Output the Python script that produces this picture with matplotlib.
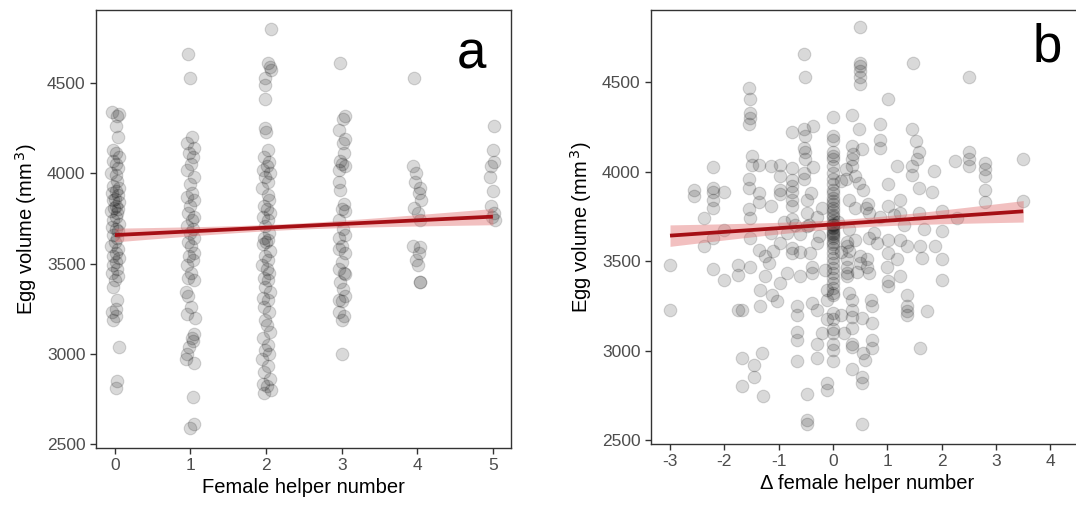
import numpy as np
import matplotlib
matplotlib.use("Agg")
from matplotlib import pyplot as plt

plt.rcParams["font.family"] = ["Liberation Sans", "DejaVu Sans"]
plt.rcParams["axes.unicode_minus"] = False

# Panel a: egg volume per female helper number (y values + horizontal jitter per point)
a_y0 = [4340, 4320, 4330, 4260, 4200, 4130, 4110, 4090, 4070, 4050, 4030, 4000, 3990, 3960,
        3930, 3920, 3900, 3890, 3880, 3860, 3850, 3840, 3820, 3810, 3800, 3790, 3780, 3760,
        3740, 3720, 3700, 3690, 3680, 3660, 3640, 3620, 3600, 3580, 3560, 3540, 3530, 3510,
        3490, 3470, 3450, 3430, 3410, 3370, 3300, 3250, 3230, 3210, 3190, 3040, 2850, 2810]
a_j0 = [-0.04, 0.03, 0.05, 0.02, 0.04, -0.02, 0.01, 0.05, -0.03, 0.02, 0.04, -0.05, 0.01, 0.03,
        -0.02, 0.05, 0.02, -0.04, 0.04, 0.00, -0.03, 0.05, 0.02, -0.01, 0.04, -0.05, 0.03, 0.01,
        -0.03, 0.05, -0.04, 0.02, 0.04, -0.02, 0.03, 0.00, -0.05, 0.04, 0.02, -0.03, 0.05, 0.01,
        -0.02, 0.03, -0.04, 0.04, 0.00, -0.03, 0.03, 0.02, -0.04, 0.01, -0.02, 0.05, 0.03, 0.02]

a_y1 = [4660, 4530, 4200, 4170, 4140, 4110, 4090, 4050, 4020, 3980, 3940, 3890, 3870, 3850,
        3820, 3780, 3760, 3740, 3710, 3690, 3670, 3640, 3620, 3600, 3560, 3540, 3520, 3490,
        3450, 3420, 3410, 3340, 3320, 3260, 3220, 3200, 3110, 3090, 3070, 3040, 3000, 2970,
        2950, 2760, 2610, 2590]
a_j1 = [-0.03, -0.01, 0.02, -0.04, 0.05, -0.02, 0.03, 0.01, -0.05, 0.04, -0.01, 0.02, -0.04,
        0.05, 0.00, -0.03, 0.04, 0.02, -0.05, 0.03, -0.01, 0.05, -0.03, 0.01, 0.04, -0.02,
        0.03, -0.05, 0.01, -0.03, 0.04, -0.06, -0.03, 0.01, -0.04, 0.06, 0.04, 0.02, 0.03,
        -0.02, -0.04, -0.06, 0.05, 0.03, 0.04, -0.01]

a_y2 = [4800, 4610, 4590, 4570, 4530, 4490, 4410, 4250, 4230, 4130, 4090, 4060, 4040, 4020,
        4000, 3980, 3950, 3920, 3880, 3850, 3820, 3800, 3780, 3760, 3740, 3710, 3670, 3640,
        3630, 3620, 3610, 3570, 3540, 3520, 3490, 3470, 3450, 3420, 3410, 3370, 3340, 3310,
        3300, 3260, 3230, 3190, 3160, 3120, 3090, 3050, 3020, 3000, 2970, 2930, 2900, 2860,
        2830, 2820, 2800, 2780]
a_j2 = [0.06, 0.02, 0.05, 0.07, -0.02, -0.01, -0.01, -0.02, 0.00, 0.03, -0.03, 0.04, 0.01,
        -0.04, 0.05, -0.02, 0.03, -0.05, 0.02, 0.04, -0.03, 0.01, 0.05, -0.04, 0.02, -0.01,
        0.04, -0.03, 0.03, 0.00, -0.04, 0.05, -0.02, 0.03, -0.05, 0.01, 0.04, -0.03, 0.02,
        -0.01, 0.05, -0.04, 0.02, -0.03, 0.04, -0.02, 0.01, 0.05, -0.04, 0.03, -0.01, 0.04,
        -0.05, 0.02, -0.03, 0.05, -0.04, 0.01, 0.06, -0.03]

a_y3 = [4610, 4320, 4300, 4240, 4190, 4170, 4110, 4070, 4050, 4040, 4020, 3950, 3910, 3830,
        3800, 3790, 3740, 3690, 3660, 3640, 3600, 3580, 3560, 3510, 3470, 3450, 3440, 3400,
        3360, 3320, 3300, 3290, 3230, 3210, 3190, 3000]
a_j3 = [-0.02, 0.04, 0.02, -0.03, 0.05, 0.02, 0.03, -0.02, 0.01, 0.04, -0.03, -0.04, -0.02,
        0.03, 0.01, 0.05, -0.03, 0.02, 0.05, -0.04, 0.01, -0.03, 0.04, 0.00, -0.04, 0.03, 0.05,
        -0.02, 0.02, 0.04, -0.03, 0.01, -0.04, 0.03, 0.00, 0.00]

a_y4 = [4530, 4040, 4000, 3950, 3920, 3890, 3850, 3810, 3780, 3740, 3600, 3590, 3560, 3520,
        3490, 3400, 3400]
a_j4 = [-0.04, -0.05, -0.02, -0.03, 0.03, 0.02, 0.05, -0.04, 0.01, 0.04, -0.06, 0.03, 0.02,
        -0.02, 0.01, 0.03, 0.04]

a_y5 = [4260, 4130, 4060, 4040, 3980, 3900, 3820, 3780, 3760, 3740]
a_j5 = [0.02, 0.00, 0.01, -0.02, -0.04, 0.00, -0.03, 0.02, -0.01, 0.03]

a_groups = [0, 1, 2, 3, 4, 5]
a_values = [a_y0, a_y1, a_y2, a_y3, a_y4, a_y5]
a_jitter = [a_j0, a_j1, a_j2, a_j3, a_j4, a_j5]

# Panel b: change in female helper number vs egg volume
b_x = [-3.0, -3.0, -2.55, -2.55, -2.38, -2.38, -2.2, -2.2, -2.2, -2.2, -2.2, -2.2, -2.2,
       -2.0, -2.0, -2.0, -1.74, -1.74, -1.74, -1.68, -1.68, -1.68, -1.55, -1.52, -1.52, -1.52,
       -1.55, -1.5, -1.5, -1.55, -1.55, -1.55, -1.52, -1.52, -1.52, -1.46, -1.46, -1.37, -1.37,
       -1.37, -1.37, -1.34, -1.34, -1.31, -1.29, -1.25, -1.25, -1.18, -1.15, -1.15, -1.15,
       -1.12, -1.03, -0.97, -0.97, -0.97, -0.97, -0.97, -0.97, -0.85, -0.75, -0.75, -0.75,
       -0.75, -0.75, -0.75, -0.75, -0.75, -0.75, -0.75, -0.66, -0.66, -0.66, -0.66, -0.66,
       -0.54, -0.52, -0.54, -0.52, -0.54, -0.52, -0.52, -0.54, -0.54, -0.48, -0.48, -0.48,
       -0.48, -0.48, -0.48, -0.42, -0.39, -0.39, -0.39, -0.36, -0.36, -0.29, -0.29, -0.29,
       -0.2, -0.12, -0.12, -0.12, -0.12, -0.12,
       -0.9, -0.6, -0.3, -0.3, -0.2, -0.6, -1.1, -0.45, -0.15, -0.6, -0.85, -0.4, -0.25, -0.7,
       0, 0, 0, 0, 0, 0, 0, 0, 0, 0, 0, 0, 0, 0, 0, 0, 0, 0, 0, 0, 0, 0, 0, 0, 0, 0, 0, 0, 0,
       0, 0, 0, 0, 0, 0, 0, 0, 0, 0, 0, 0, 0, 0, 0, 0, 0, 0, 0, 0, 0,
       0.35, 0.35, 0.47, 0.35, 0.37, 0.35, 0.35, 0.23, 0.23, 0.5, 0.5, 0.5, 0.5, 0.5, 0.5,
       0.47, 0.53, 0.41, 0.29, 0.26, 0.26, 0.26, 0.26, 0.26, 0.26, 0.29, 0.35, 0.35, 0.35,
       0.35, 0.35, 0.35, 0.5, 0.5, 0.63, 0.63, 0.66, 0.66, 0.53, 0.56, 0.58, 0.53, 0.53, 0.53,
       0.56, 0.6, 0.66, 0.7, 0.72, 0.72, 0.72, 0.72, 0.87, 0.87, 0.87, 0.75, 0.87,
       0.15, 0.15, 0.3, 0.4, 0.65, 0.8, 0.15, 0.2, 0.3, 0.45, 0.1, 0.4,
       1.02, 1.02, 1.02, 1.02, 1.02, 0.99, 1.02, 1.02, 1.18, 1.24, 1.24, 1.24, 1.24, 1.18,
       1.36, 1.36, 1.36, 1.36, 1.36, 1.45, 1.52, 1.48, 1.45, 1.45, 1.55, 1.58, 1.58, 1.58,
       1.6, 1.64, 1.6, 1.67, 1.73, 1.82, 1.85, 1.88, 2.0, 2.0, 2.0, 2.0, 2.25, 2.5, 2.5, 2.5,
       2.5, 2.28, 2.8, 2.8, 2.8, 2.8, 2.8, 3.5, 3.5, 1.3, 1.12]
b_y = [3480, 3225, 3900, 3865, 3740, 3585, 4025, 3910, 3890, 3845, 3800, 3630, 3455,
       3885, 3675, 3395, 3480, 3425, 3230, 3230, 2960, 2805, 4470, 4405, 4330, 4300,
       4265, 4090, 4040, 3960, 3910, 3790, 3740, 3630, 3470, 2920, 2855, 3880, 3830,
       3565, 4040, 3340, 3250, 2985, 2745, 3530, 3415, 3490, 4030, 3810, 3660,
       3310, 3275, 4040, 3975, 3900, 3875, 3600, 3380, 3435, 4220, 4020, 3955,
       3920, 3885, 3845, 3810, 3735, 3575, 3545, 3250, 3200, 3105, 3060, 2940,
       4660, 4530, 4240, 4200, 4135, 4110, 4070, 3995, 3960, 2760, 2610, 2590,
       3845, 3770, 3695, 3545, 3470, 3435, 3265, 4255, 4025, 3040, 2960, 3230,
       3100, 2820, 2780, 3340, 3285, 3175,
       3720, 3650, 3750, 3600, 3800, 3420, 3560, 3700, 3450, 3550, 3660, 3880, 3640, 3700,
       4305, 4200, 4180, 4110, 4090, 4070, 4030, 3995, 3960, 3930, 3900, 3880, 3855, 3835,
       3820, 3800, 3780, 3760, 3745, 3725, 3705, 3685, 3670, 3650, 3630, 3610, 3595, 3575,
       3545, 3520, 3490, 3460, 3435, 3405, 3380, 3350, 3320, 3210, 3175, 3120, 3100, 3040,
       3005, 2940, 3710, 3690, 3660, 3700, 3640, 3310,
       2895, 4320, 4240, 4145, 4100, 4070, 4035, 4015, 3960, 4810, 4610, 4590, 4565, 4530,
       4490, 3940, 4125, 3975, 3845, 3610, 3585, 3510, 3470, 3435, 3415, 3320, 3285, 3230,
       3190, 3125, 3040, 3020, 3530, 3490, 3510, 3470, 3435, 3630, 3180, 2985, 2950, 2855,
       2820, 2590, 3900, 3800, 3770, 3285, 3250, 3155, 3060, 3015, 4265, 4180, 4135, 3660,
       3750, 3550, 3950, 3680, 3800, 3820, 3600, 3200, 3100, 3560, 3440, 3720, 3620,
       4405, 3930, 3810, 3620, 3545, 3470, 3390, 3360, 4030, 3845, 3770, 3620, 3415, 3510,
       3310, 3250, 3220, 3200, 3585, 4240, 4175, 4610, 4030, 3985, 4070, 4110, 3910, 3770,
       3585, 3520, 3015, 3680, 3220, 3885, 4005, 3585, 3780, 3670, 3510, 3395, 4060, 4530,
       4110, 4070, 4030, 3740, 4050, 4015, 3975, 3900, 3830, 4070, 3835, 3700, 3760]

# Fitted lines: intercept, slope, CI half-width model
fit_a = {"intercept": 3658, "slope": 20.4, "x": (0, 5), "x0": 2.25, "hmin": 17, "k": 229}
fit_b = {"intercept": 3706, "slope": 20.9, "x": (-3, 3.5), "x0": 0.25, "hmin": 25, "k": 282}

PT_FACE = (0, 0, 0, 0.15)
PT_EDGE = (0, 0, 0, 0.15)
LINE_C = "#a50f15"
BAND_C = (0.88, 0.42, 0.42, 0.42)
TXT_C = "#4d4d4d"


def draw_fit(ax, fit):
    xs = np.linspace(fit["x"][0], fit["x"][1], 100)
    ys = fit["intercept"] + fit["slope"] * xs
    hw = np.sqrt(fit["hmin"] ** 2 + fit["k"] * (xs - fit["x0"]) ** 2)
    ax.fill_between(xs, ys - hw, ys + hw, color=BAND_C, linewidth=0, zorder=3)
    ax.plot(xs, ys, color=LINE_C, linewidth=2.7, zorder=4, solid_capstyle="butt")


def style(ax, xlabel):
    for s in ax.spines.values():
        s.set_color("#333333")
        s.set_linewidth(1.0)
    ax.tick_params(colors="#333333", labelcolor=TXT_C, labelsize=12.5, length=4, width=1)
    ax.set_xlabel(xlabel, fontsize=14.5, color="black", labelpad=3)
    ax.set_ylabel("Egg volume (mm$^{\\,3}$)", fontsize=14.5, color="black", labelpad=6)
    ax.set_yticks([2500, 3000, 3500, 4000, 4500])
    ax.set_ylim(2478, 4905)


fig = plt.figure(figsize=(10.76, 5.08), dpi=100, facecolor="white")
W, H = 1076, 508

ax_a = fig.add_axes([96 / W, (H - 448) / H, (511 - 96) / W, (448 - 10) / H])
for g, ys, js in zip(a_groups, a_values, a_jitter):
    xs = [g + j for j in js]
    ax_a.scatter(xs, ys, s=82, facecolor=PT_FACE, edgecolor=PT_EDGE, linewidth=0.8, zorder=2)
draw_fit(ax_a, fit_a)
ax_a.set_xlim(-0.25, 5.24)
ax_a.set_xticks(a_groups)
style(ax_a, "Female helper number")
ax_a.text(0.94, 0.955, "a", transform=ax_a.transAxes, fontsize=38, ha="right", va="top")

ax_b = fig.add_axes([651 / W, (H - 444) / H, (1083 - 651) / W, (444 - 10) / H])
ax_b.scatter(b_x, b_y, s=82, facecolor=PT_FACE, edgecolor=PT_EDGE, linewidth=0.8, zorder=2)
draw_fit(ax_b, fit_b)
ax_b.set_xlim(-3.35, 4.6)
ax_b.set_xticks([-3, -2, -1, 0, 1, 2, 3, 4])
style(ax_b, "\u0394 female helper number")
ax_b.text(1047 / W, 0.955, "b", transform=fig.transFigure, fontsize=38, ha="center", va="top")

fig.savefig("out.png", dpi=100, facecolor="white")
